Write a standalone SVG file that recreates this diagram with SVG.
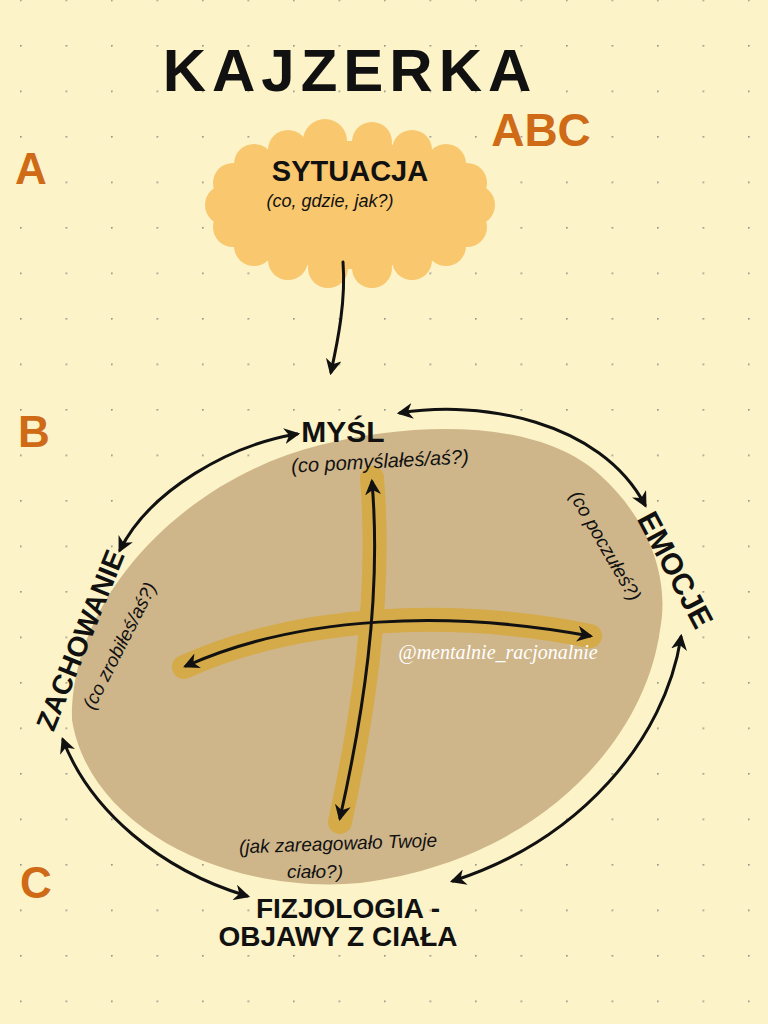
<svg xmlns="http://www.w3.org/2000/svg" width="768" height="1024" viewBox="0 0 768 1024">
<defs>
<pattern id="dots" x="20" y="45" width="45.5" height="45.5" patternUnits="userSpaceOnUse">
<circle cx="0.8" cy="0.8" r="1" fill="#9a968a"/>
</pattern>
<marker id="ah" viewBox="0 0 10 10" refX="8" refY="5" markerWidth="16" markerHeight="16" markerUnits="userSpaceOnUse" orient="auto-start-reverse">
<path d="M0,0 L10,5 L0,10 L3,5 Z" fill="#111"/>
</marker>
<style>
.hand{font-family:"Liberation Sans","DejaVu Sans",sans-serif;fill:#111;font-weight:bold}
.small{font-family:"Liberation Sans","DejaVu Sans",sans-serif;fill:#111;font-style:italic}
.letter{font-family:"Liberation Sans","DejaVu Sans",sans-serif;fill:#cf6a17;font-weight:bold}
.conn{fill:none;stroke:#111;stroke-width:3;stroke-linecap:round}
.band{fill:none;stroke:#d5aa48;stroke-width:24;stroke-linecap:round}
.cloud{fill:#f8c76e}
</style>
</defs>
<rect width="768" height="1024" fill="#fcf4c8"/>
<rect width="768" height="1024" fill="url(#dots)"/>

<g id="title">
<text class="hand" x="350" y="91" font-size="60" text-anchor="middle" letter-spacing="6">KAJZERKA</text>
<text class="letter" x="541" y="146" font-size="46" text-anchor="middle">ABC</text>
</g>

<g id="labels-abc">
<text class="letter" x="31" y="184" font-size="44" text-anchor="middle">A</text>
<text class="letter" x="34" y="447" font-size="44" text-anchor="middle">B</text>
<text class="letter" x="36" y="898" font-size="44" text-anchor="middle">C</text>
</g>

<g id="situation">
<ellipse class="cloud" cx="350" cy="205" rx="125" ry="64"/>
<circle class="cloud" cx="475" cy="205" r="20"/>
<circle class="cloud" cx="467" cy="227" r="20"/>
<circle class="cloud" cx="446" cy="246" r="20"/>
<circle class="cloud" cx="412" cy="260" r="20"/>
<circle class="cloud" cx="372" cy="268" r="20"/>
<circle class="cloud" cx="328" cy="268" r="20"/>
<circle class="cloud" cx="288" cy="260" r="20"/>
<circle class="cloud" cx="254" cy="246" r="20"/>
<circle class="cloud" cx="233" cy="227" r="20"/>
<circle class="cloud" cx="225" cy="205" r="20"/>
<circle class="cloud" cx="233" cy="183" r="20"/>
<circle class="cloud" cx="254" cy="164" r="20"/>
<circle class="cloud" cx="288" cy="150" r="20"/>
<circle class="cloud" cx="325" cy="141" r="22"/>
<circle class="cloud" cx="372" cy="142" r="20"/>
<circle class="cloud" cx="412" cy="150" r="20"/>
<circle class="cloud" cx="446" cy="164" r="20"/>
<circle class="cloud" cx="467" cy="183" r="20"/>
<text class="hand" x="350" y="181" font-size="29" text-anchor="middle">SYTUACJA</text>
<text class="small" x="330" y="207" font-size="18" text-anchor="middle">(co, gdzie, jak?)</text>
</g>

<g id="core">
<path d="M72,720 C70,600 180,480 320,445 C420,420 540,420 600,475 C650,520 670,580 660,630 C645,740 540,860 360,883 C230,895 90,830 72,720 Z" fill="#cfb68a"/>
<path class="band" d="M372,478 C382,600 362,720 340,822"/>
<path class="band" d="M184,667 C300,615 450,608 590,636"/>
<text x="498" y="659" font-family="Liberation Serif, DejaVu Serif, serif" font-style="italic" font-size="20" fill="#ffffff" text-anchor="middle">@mentalnie_racjonalnie</text>
</g>

<g id="mysl">
<text class="hand" x="343" y="442" font-size="30" text-anchor="middle">MYŚL</text>
<text class="small" x="380" y="468" font-size="20" text-anchor="middle" transform="rotate(-3 380 462)">(co pomyślałeś/aś?)</text>
</g>

<g id="emocje">
<text class="hand" x="675" y="580" font-size="30" text-anchor="middle" transform="rotate(62 675 570)">EMOCJE</text>
<text class="small" x="605" y="552" font-size="19" text-anchor="middle" transform="rotate(60 605 546)">(co poczułeś?)</text>
</g>

<g id="zachowanie">
<text class="hand" x="80" y="650" font-size="28" text-anchor="middle" transform="rotate(-68 80 640)">ZACHOWANIE</text>
<text class="small" x="120" y="652" font-size="19" text-anchor="middle" transform="rotate(-63 120 646)">(co zrobiłeś/aś?)</text>
</g>

<g id="fizjologia">
<text class="small" x="338" y="850" font-size="19" text-anchor="middle" transform="rotate(-2 338 845)">(jak zareagowało Twoje</text>
<text class="small" x="315" y="878" font-size="19" text-anchor="middle">ciało?)</text>
<text class="hand" x="348" y="918" font-size="28" text-anchor="middle">FIZJOLOGIA -</text>
<text class="hand" x="338" y="946" font-size="28" text-anchor="middle">OBJAWY Z CIAŁA</text>
</g>

<g id="connectors">
<path class="conn" d="M343,262 C346,300 338,340 331,372" marker-end="url(#ah)"/>
<path class="conn" d="M400,413 C480,400 600,420 645,505" marker-start="url(#ah)" marker-end="url(#ah)"/>
<path class="conn" d="M297,434 C230,445 150,490 120,550" marker-start="url(#ah)" marker-end="url(#ah)"/>
<path class="conn" d="M63,740 C90,810 160,870 247,896" marker-start="url(#ah)" marker-end="url(#ah)"/>
<path class="conn" d="M681,637 C665,740 580,840 453,881" marker-start="url(#ah)" marker-end="url(#ah)"/>
<path class="conn" d="M372,482 C382,600 362,720 340,818" marker-start="url(#ah)" marker-end="url(#ah)"/>
<path class="conn" d="M186,666 C300,615 450,610 590,636" marker-start="url(#ah)" marker-end="url(#ah)"/>
</g>
</svg>
